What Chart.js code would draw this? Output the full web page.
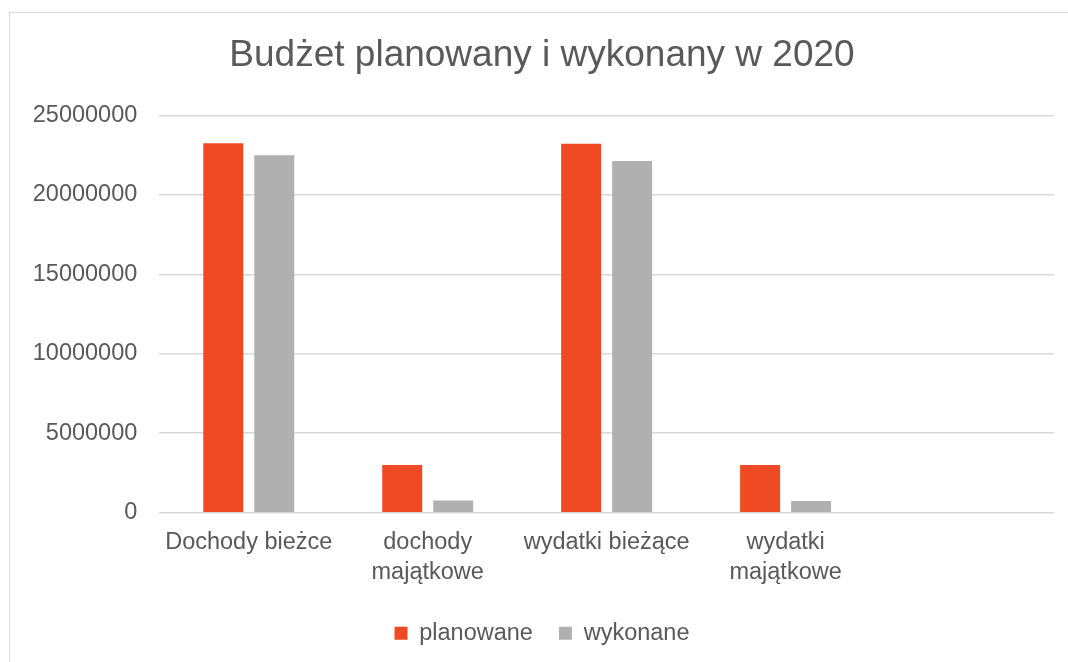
<!DOCTYPE html>
<html lang="pl">
<head>
<meta charset="utf-8">
<title>Budżet planowany i wykonany w 2020</title>
<script src="https://cdn.jsdelivr.net/npm/chart.js@4/dist/chart.umd.min.js"></script>
<style>
  html, body { margin: 0; padding: 0; background: #fff; }
  #wrap { position: relative; width: 1068px; height: 662px; overflow: hidden; }
  #frame { position: absolute; left: 9px; top: 12px; width: 1100px; height: 700px;
           border-left: 1.5px solid #d9d9d9; border-top: 1.5px solid #d9d9d9; pointer-events: none; }
  #budget { position: absolute; left: 0; top: 0; }
</style>
</head>
<body>
<div id="wrap">
  <div id="frame"></div>
  <canvas id="budget" width="1068" height="662"></canvas>
</div>
<script>
const categories = ['Dochody bieżce', ['dochody', 'majątkowe'], 'wydatki bieżące', ['wydatki', 'majątkowe'], ''];
const planowane = [23240000, 3000000, 23220000, 3000000, null];
const wykonane = [22490000, 770000, 22130000, 740000, null];
const yTicks = [0, 5000000, 10000000, 15000000, 20000000, 25000000];

const textColor = '#595959';
const gridColor = '#d9d9d9';
const labelFont = { family: 'Liberation Sans, Arial, sans-serif', size: 23.5, lineHeight: 1.28 };

new Chart(document.getElementById('budget'), {
  type: 'bar',
  data: {
    labels: categories,
    datasets: [
      { label: 'planowane', data: planowane, backgroundColor: '#ef4a23', categoryPercentage: 0.57, barPercentage: 0.784 },
      { label: 'wykonane', data: wykonane, backgroundColor: '#b0b0b0', categoryPercentage: 0.57, barPercentage: 0.784 },
    ],
  },
  options: {
    responsive: false,
    animation: false,
    layout: { padding: { left: 30, right: 14, top: 0, bottom: 7 } },
    plugins: {
      title: {
        display: true,
        text: 'Budżet planowany i wykonany w 2020',
        color: textColor,
        font: { family: 'Liberation Sans, Arial, sans-serif', size: 37, weight: 'normal' },
        padding: { top: 34, bottom: 37 },
      },
      legend: {
        position: 'bottom',
        labels: { color: textColor, font: labelFont, boxWidth: 13, boxHeight: 13, padding: 26 },
      },
      tooltip: { enabled: false },
    },
    scales: {
      x: {
        grid: { display: false, drawTicks: false },
        border: { display: false },
        ticks: { color: textColor, font: labelFont, padding: 14.5, maxRotation: 0, autoSkip: false },
        afterFit: (scale) => { scale.height = 82.8; },
      },
      y: {
        min: 0,
        max: 25000000,
        afterBuildTicks: (scale) => { scale.ticks = yTicks.map((value) => ({ value })); },
        grid: { color: gridColor, lineWidth: 1.5, drawTicks: false },
        border: { display: false },
        ticks: { color: textColor, font: labelFont, padding: 22, callback: (value) => String(value) },
        afterFit: (scale) => { scale.width = 129.3; },
      },
    },
  },
});
</script>
</body>
</html>
